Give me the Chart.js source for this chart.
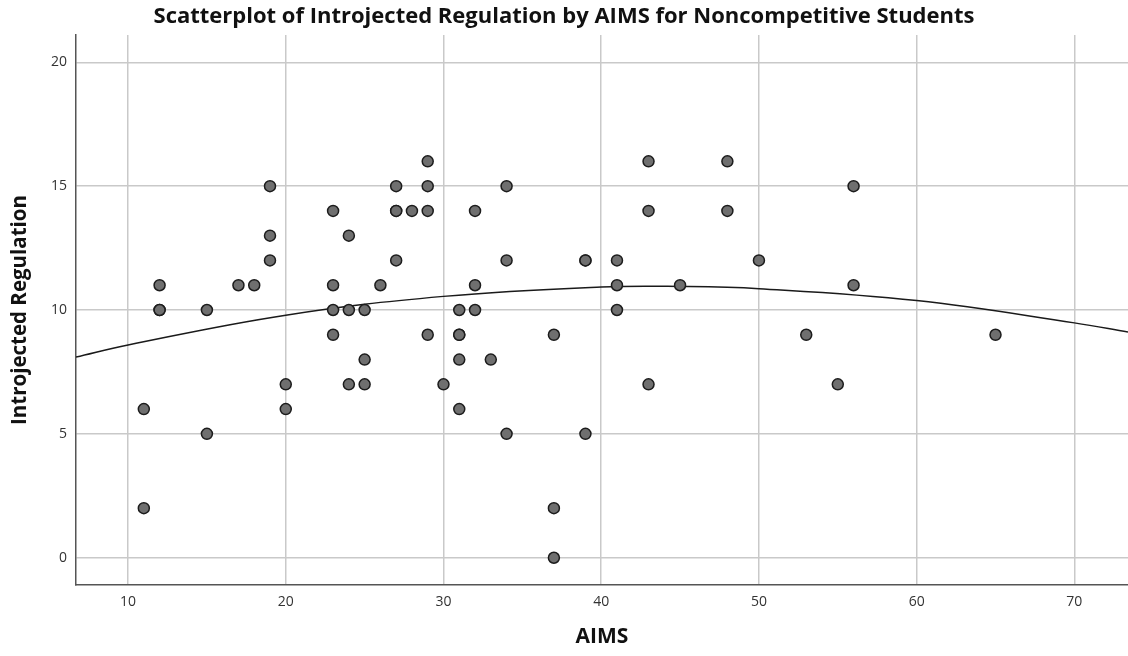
<!DOCTYPE html>
<html>
<head>
<meta charset="utf-8">
<title>Scatterplot of Introjected Regulation by AIMS</title>
<script src="https://cdn.jsdelivr.net/npm/chart.js@4.4.1/dist/chart.umd.min.js"></script>
<style>
  html, body { margin: 0; padding: 0; background: #fff; }
  #grafico { display: block; }
</style>
</head>
<body>
<canvas id="grafico" width="1128" height="656"></canvas>
<script>
// AIMS score of every student (x) and the matching introjected regulation (y)
const aims = [
  11, 11, 12, 12, 12, 15, 15, 17, 18, 19, 19, 19, 20, 20,
  23, 23, 23, 23, 24, 24, 24, 25, 25, 25, 26,
  27, 27, 27, 27, 28, 29, 29, 29, 29, 30,
  31, 31, 31, 31, 31, 32, 32, 32, 33, 34, 34, 34,
  37, 37, 37, 39, 39, 39, 41, 41, 41, 43, 43, 43, 45,
  48, 48, 50, 53, 55, 56, 56, 65
];
const introyectada = [
  2, 6, 11, 10, 10, 10, 5, 11, 11, 15, 13, 12, 7, 6,
  14, 11, 10, 9, 13, 10, 7, 10, 8, 7, 11,
  15, 14, 14, 12, 14, 16, 15, 14, 9, 7,
  10, 9, 9, 8, 6, 14, 11, 10, 8, 15, 12, 5,
  9, 2, 0, 12, 12, 5, 12, 11, 10, 16, 14, 7, 11,
  16, 14, 12, 9, 7, 15, 11, 9
];

// quadratic fit line at a few AIMS values
const ajusteX = [6.7, 10, 20, 30, 40, 45, 50, 60, 70, 73.4];
const ajusteY = [8.1, 8.59, 9.79, 10.55, 10.93, 10.95, 10.86, 10.38, 9.48, 9.11];

const tituloGrafico = 'Scatterplot of Introjected Regulation by AIMS for Noncompetitive Students';
const tituloX = 'AIMS';
const tituloY = 'Introjected Regulation';

const puntos = aims.map((x, i) => ({ x: x, y: introyectada[i] }));
const curva = ajusteX.map((x, i) => ({ x: x, y: ajusteY[i] }));

const fuente = "'Open Sans', 'DejaVu Sans', sans-serif";

new Chart(document.getElementById('grafico'), {
  type: 'scatter',
  data: {
    datasets: [
      {
        label: 'Students',
        data: puntos,
        backgroundColor: '#6f6f6f',
        borderColor: '#1c1c1c',
        borderWidth: 1.5,
        pointRadius: 5.5,
        pointHoverRadius: 5.5
      },
      {
        label: 'Quadratic fit',
        type: 'line',
        data: curva,
        showLine: true,
        borderColor: '#1a1a1a',
        borderWidth: 1.5,
        pointRadius: 0,
        tension: 0.4,
        fill: false
      }
    ]
  },
  options: {
    responsive: false,
    animation: false,
    layout: { padding: 0, autoPadding: false },
    plugins: {
      legend: { display: false },
      tooltip: { enabled: false },
      title: {
        display: true,
        text: tituloGrafico,
        color: '#111',
        font: { family: fuente, size: 22, weight: 'bold' },
        padding: { top: 4, bottom: 4.6 }
      }
    },
    scales: {
      x: {
        type: 'linear',
        min: 6.7,
        max: 73.4,
        afterFit: scale => {
          scale.height = 71;
          scale.paddingLeft = 0;
          scale.paddingRight = 0;
        },
        ticks: {
          stepSize: 10,
          includeBounds: false,
          color: '#333',
          padding: 9,
          font: { family: fuente, size: 14 }
        },
        grid: { color: '#c9c9c9', lineWidth: 1.5, drawTicks: false },
        border: { color: '#555', width: 1.5 },
        title: {
          display: true,
          text: tituloX,
          color: '#111',
          font: { family: fuente, size: 21, weight: 'bold' },
          padding: { top: 0, bottom: 6 }
        }
      },
      y: {
        type: 'linear',
        min: -1.1,
        max: 21.1,
        afterFit: scale => {
          scale.width = 76;
          scale.paddingTop = 0;
          scale.paddingBottom = 0;
        },
        ticks: {
          stepSize: 5,
          includeBounds: false,
          color: '#333',
          padding: 9,
          font: { family: fuente, size: 14 }
        },
        grid: { color: '#c9c9c9', lineWidth: 1.5, drawTicks: false },
        border: { color: '#555', width: 1.5 },
        title: {
          display: true,
          text: tituloY,
          color: '#111',
          font: { family: fuente, size: 20.5, weight: 'bold' },
          padding: { top: 8, bottom: 0 }
        }
      }
    }
  }
});
</script>
</body>
</html>
